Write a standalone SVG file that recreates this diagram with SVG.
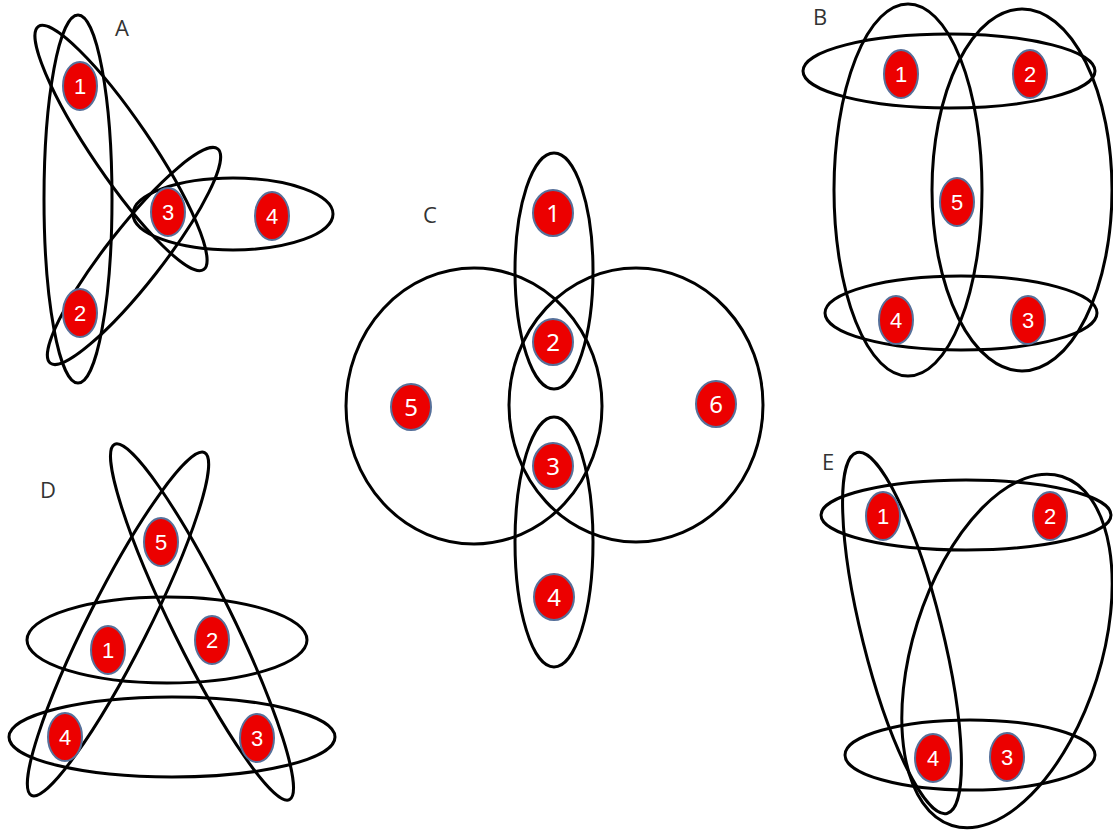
<svg xmlns="http://www.w3.org/2000/svg" width="1113" height="830" viewBox="0 0 1113 830">
<style>
.e{fill:none;stroke:#000;stroke-width:3}
.n ellipse{fill:#ec0000;stroke:#56709a;stroke-width:2}
.n text{fill:#fff;font-family:"Liberation Sans",Arial,sans-serif;font-size:22px;text-anchor:middle}
.m text{font-family:"Noto Sans","Open Sans",sans-serif;font-size:24px}
.lbl{font-family:"Open Sans","Liberation Sans",sans-serif;font-size:22px;fill:#333;text-anchor:middle}
</style>
<rect width="1113" height="830" fill="#fff"/>
<g id="connectors">
  <g id="panelA-sets">
    <ellipse class="e" cx="78" cy="199" rx="34" ry="184"/>
    <ellipse class="e" cx="121" cy="148" rx="147" ry="29" transform="rotate(55.8 121 148)"/>
    <ellipse class="e" cx="134" cy="256" rx="136" ry="28" transform="rotate(-52 134 256)"/>
    <ellipse class="e" cx="233" cy="214" rx="100" ry="36"/>
  </g>
  <g id="panelB-sets">
    <ellipse class="e" cx="949" cy="71" rx="146" ry="37"/>
    <ellipse class="e" cx="961" cy="313" rx="136" ry="37"/>
    <ellipse class="e" cx="908" cy="190" rx="74" ry="186"/>
    <ellipse class="e" cx="1022" cy="190" rx="90" ry="181"/>
  </g>
  <g id="panelC-sets">
    <ellipse class="e" cx="474" cy="406" rx="128" ry="138"/>
    <ellipse class="e" cx="636" cy="405" rx="127" ry="137"/>
    <ellipse class="e" cx="554" cy="271" rx="39" ry="118"/>
    <ellipse class="e" cx="554" cy="542" rx="39" ry="125"/>
  </g>
  <g id="panelD-sets">
    <ellipse class="e" cx="118" cy="624" rx="192" ry="30" transform="rotate(-63.2 118 624)"/>
    <ellipse class="e" cx="202" cy="622" rx="198" ry="30" transform="rotate(63.8 202 622)"/>
    <ellipse class="e" cx="167" cy="640" rx="140" ry="43"/>
    <ellipse class="e" cx="172" cy="737" rx="163" ry="40"/>
  </g>
  <g id="panelE-sets">
    <ellipse class="e" cx="966" cy="515" rx="145" ry="35"/>
    <ellipse class="e" cx="970" cy="755" rx="125" ry="35"/>
    <ellipse class="e" cx="902" cy="633" rx="186" ry="40" transform="rotate(76 902 633)"/>
    <ellipse class="e" cx="1007" cy="651" rx="183" ry="94" transform="rotate(-72.5 1007 651)"/>
  </g>
</g>
<g id="labels">
  <text class="lbl" x="122" y="36">A</text>
  <text class="lbl" x="820" y="25">B</text>
  <text class="lbl" x="430" y="223">C</text>
  <text class="lbl" x="48" y="498">D</text>
  <text class="lbl" x="828" y="470">E</text>
</g>
<g id="A1" class="n"><ellipse cx="80" cy="86" rx="17" ry="24"/><text x="80" y="94">1</text></g>
<g id="A2" class="n"><ellipse cx="80" cy="313" rx="17" ry="24"/><text x="80" y="321">2</text></g>
<g id="A3" class="n"><ellipse cx="168" cy="212" rx="17" ry="24"/><text x="168" y="220">3</text></g>
<g id="A4" class="n"><ellipse cx="272" cy="216" rx="17" ry="24"/><text x="272" y="224">4</text></g>
<g id="B1" class="n"><ellipse cx="901" cy="74" rx="17" ry="24"/><text x="901" y="82">1</text></g>
<g id="B2" class="n"><ellipse cx="1030" cy="74" rx="17" ry="24"/><text x="1030" y="82">2</text></g>
<g id="B5" class="n"><ellipse cx="957" cy="202" rx="17" ry="24"/><text x="957" y="210">5</text></g>
<g id="B4" class="n"><ellipse cx="896" cy="320" rx="17" ry="24"/><text x="896" y="328">4</text></g>
<g id="B3" class="n"><ellipse cx="1028" cy="320" rx="17" ry="24"/><text x="1028" y="328">3</text></g>
<g id="C1" class="n m"><ellipse cx="553" cy="213" rx="20" ry="23"/><text x="553" y="222">1</text></g>
<g id="C2" class="n m"><ellipse cx="553" cy="342" rx="20" ry="23"/><text x="553" y="351">2</text></g>
<g id="C3" class="n m"><ellipse cx="553" cy="466" rx="20" ry="23"/><text x="553" y="475">3</text></g>
<g id="C4" class="n m"><ellipse cx="554" cy="597" rx="20" ry="23"/><text x="554" y="606">4</text></g>
<g id="C5" class="n m"><ellipse cx="411" cy="407" rx="20" ry="23"/><text x="411" y="416">5</text></g>
<g id="C6" class="n m"><ellipse cx="716" cy="404" rx="20" ry="23"/><text x="716" y="413">6</text></g>
<g id="D5" class="n"><ellipse cx="161" cy="542" rx="17" ry="24"/><text x="161" y="550">5</text></g>
<g id="D1" class="n"><ellipse cx="108" cy="650" rx="17" ry="24"/><text x="108" y="658">1</text></g>
<g id="D2" class="n"><ellipse cx="212" cy="640" rx="17" ry="24"/><text x="212" y="648">2</text></g>
<g id="D4" class="n"><ellipse cx="65" cy="737" rx="17" ry="24"/><text x="65" y="745">4</text></g>
<g id="D3" class="n"><ellipse cx="257" cy="738" rx="17" ry="24"/><text x="257" y="746">3</text></g>
<g id="E1" class="n"><ellipse cx="883" cy="516" rx="17" ry="24"/><text x="883" y="524">1</text></g>
<g id="E2" class="n"><ellipse cx="1050" cy="516" rx="17" ry="24"/><text x="1050" y="524">2</text></g>
<g id="E4" class="n"><ellipse cx="933" cy="758" rx="18" ry="24"/><text x="933" y="766">4</text></g>
<g id="E3" class="n"><ellipse cx="1007" cy="757" rx="17" ry="24"/><text x="1007" y="765">3</text></g>
</svg>
